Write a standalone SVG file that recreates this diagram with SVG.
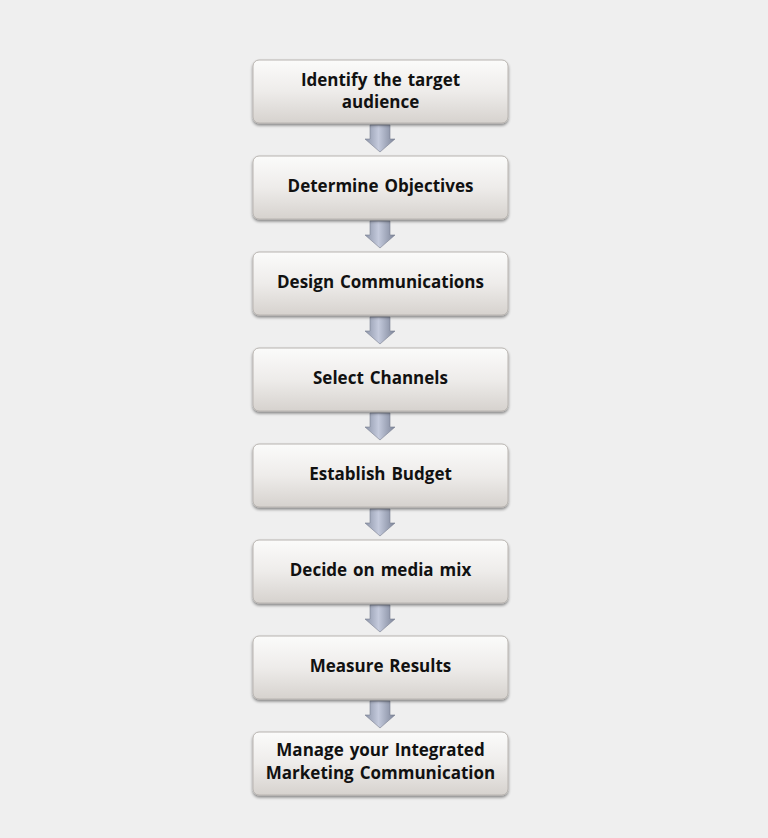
<svg xmlns="http://www.w3.org/2000/svg" width="768" height="838" viewBox="0 0 768 838">
<defs>
<linearGradient id="boxg" x1="0" y1="0" x2="0" y2="1">
<stop offset="0" stop-color="#fbfbfa"/>
<stop offset="0.5" stop-color="#eeecea"/>
<stop offset="1" stop-color="#d6d2ce"/>
</linearGradient>
<linearGradient id="arrg" x1="0" y1="0" x2="1" y2="0">
<stop offset="0" stop-color="#8c94a8"/>
<stop offset="0.45" stop-color="#c4cadc"/>
<stop offset="1" stop-color="#7c8498"/>
</linearGradient>
<filter id="sh" x="-10%" y="-20%" width="120%" height="150%">
<feGaussianBlur in="SourceAlpha" stdDeviation="1.5"/>
<feOffset dx="0" dy="2" result="b"/>
<feComponentTransfer><feFuncA type="linear" slope="0.45"/></feComponentTransfer>
<feMerge><feMergeNode/><feMergeNode in="SourceGraphic"/></feMerge>
</filter>
<path id="arrow" d="M -10 0 L 10 0 L 10 14 L 15 14 L 0 27 L -15 14 L -10 14 Z"/>
</defs>
<style>
.box{fill:url(#boxg);stroke:#b8b4b0;stroke-width:1;filter:url(#sh)}
.t{font-family:"Open Sans","Liberation Sans",sans-serif;font-weight:bold;font-size:17px;fill:#111;text-anchor:middle;word-spacing:1.5px}
.arr{fill:url(#arrg);stroke:#7a8090;stroke-width:0.6}
</style>
<rect width="768" height="838" fill="#efefef"/>
<g id="connectors">
<use href="#arrow" class="arr" x="380" y="125"/>
<use href="#arrow" class="arr" x="380" y="221"/>
<use href="#arrow" class="arr" x="380" y="317"/>
<use href="#arrow" class="arr" x="380" y="413"/>
<use href="#arrow" class="arr" x="380" y="509"/>
<use href="#arrow" class="arr" x="380" y="605"/>
<use href="#arrow" class="arr" x="380" y="701"/>
</g>
<g id="n1"><rect class="box" x="253" y="60" width="255" height="63" rx="6"/>
<text class="t" x="380.5" y="86">Identify the target</text><text class="t" x="380.5" y="108">audience</text></g>
<g id="n2"><rect class="box" x="253" y="156" width="255" height="63" rx="6"/>
<text class="t" x="380.5" y="192">Determine Objectives</text></g>
<g id="n3"><rect class="box" x="253" y="252" width="255" height="63" rx="6"/>
<text class="t" x="380.5" y="288">Design Communications</text></g>
<g id="n4"><rect class="box" x="253" y="348" width="255" height="63" rx="6"/>
<text class="t" x="380.5" y="384">Select Channels</text></g>
<g id="n5"><rect class="box" x="253" y="444" width="255" height="63" rx="6"/>
<text class="t" x="380.5" y="480">Establish Budget</text></g>
<g id="n6"><rect class="box" x="253" y="540" width="255" height="63" rx="6"/>
<text class="t" x="380.5" y="576">Decide on media mix</text></g>
<g id="n7"><rect class="box" x="253" y="636" width="255" height="63" rx="6"/>
<text class="t" x="380.5" y="672">Measure Results</text></g>
<g id="n8"><rect class="box" x="253" y="732" width="255" height="63" rx="6"/>
<text class="t" x="380.5" y="756">Manage your Integrated</text><text class="t" x="380.5" y="779">Marketing Communication</text></g>
</svg>
